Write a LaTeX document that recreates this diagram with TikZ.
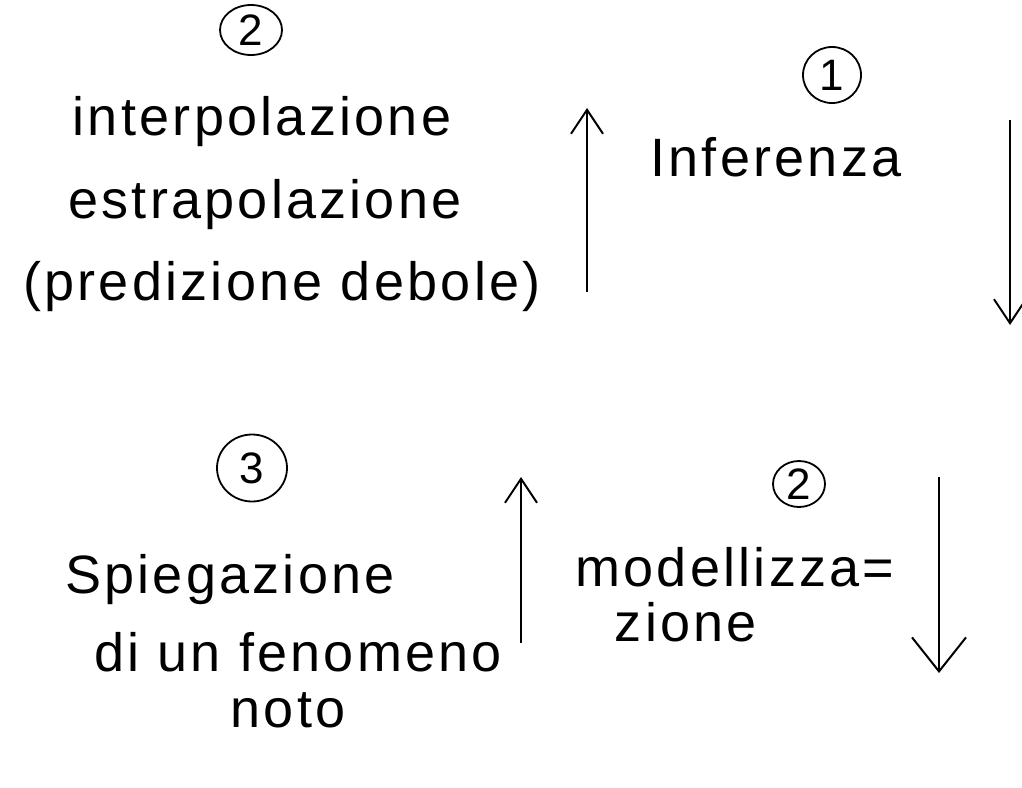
\documentclass[tikz,border=0pt]{standalone}
\usepackage{fontspec}
\newfontfamily\hand[LetterSpace=6]{Liberation Sans}
\usetikzlibrary{arrows.meta,shapes.geometric}
\tikzset{
  txt/.style={font=\hand\fontsize{54}{60}\selectfont, inner sep=0pt, anchor=center},
  num/.style={draw, ellipse, line width=1.8pt, inner sep=0pt, font=\hand\fontsize{44}{46}\selectfont},
  flow/.style={line width=2pt, -{Straight Barb[length=24pt,width=32pt,line width=2pt]}},
  bigflow/.style={line width=2pt, -{Straight Barb[length=34pt,width=54pt,line width=2pt]}}
}
\begin{document}
\begin{tikzpicture}[x=1pt,y=-1pt]
\useasboundingbox (0,0) rectangle (1022,787);
% top left
\node[num, minimum width=62pt, minimum height=50pt] (n2a) at (251,30) {2};
\node[txt] (t1) at (262,122) {interpolazione};
\node[txt] (t2) at (265,205) {estrapolazione};
\node[txt] (t3) at (282,287) {(predizione debole)};
% top right
\node[num, minimum width=58pt, minimum height=56pt] (n1) at (832,75) {1};
\node[txt] (t4) at (776,157) {Inferenza};
% bottom left
\node[num, minimum width=70pt, minimum height=67pt] (n3) at (252,468) {3};
\node[txt] (t5) at (230,580) {Spiegazione};
\node[txt] (t6) at (298,652) {di un fenomeno};
\node[txt] (t7) at (288,710) {noto};
% bottom right
\node[num, minimum width=52pt, minimum height=46pt] (n2b) at (799,484) {2};
\node[txt] (t8) at (735,567) {modellizza=};
\node[txt] (t9) at (686,622) {zione};
% arrows
\coordinate (a1s) at (587,292); \coordinate (a1e) at (587,108);
\coordinate (a2s) at (1010,120); \coordinate (a2e) at (1010,325);
\coordinate (a3s) at (521,643); \coordinate (a3e) at (521,477);
\coordinate (a4s) at (939,477); \coordinate (a4e) at (939,673);
\draw[flow] (a1s) -- (a1e);
\draw[flow] (a2s) -- (a2e);
\draw[flow] (a3s) -- (a3e);
\draw[bigflow] (a4s) -- (a4e);
\end{tikzpicture}
\end{document}
